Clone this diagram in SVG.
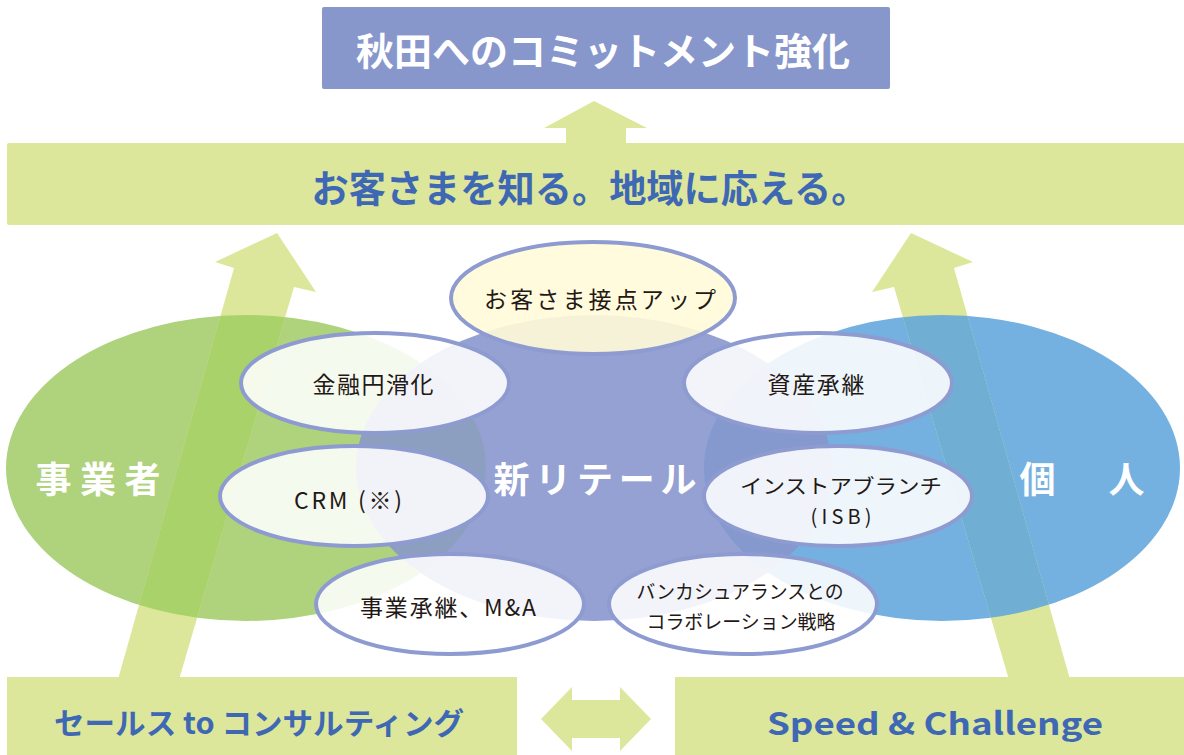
<svg xmlns="http://www.w3.org/2000/svg" width="1184" height="755" viewBox="0 0 1184 755">
<style>
.lab{font-family:"Noto Sans CJK JP","Noto Sans",sans-serif;font-size:23px;fill:#231815;text-anchor:middle;dominant-baseline:central}
.lab2{font-family:"Noto Sans CJK JP","Noto Sans",sans-serif;fill:#231815;text-anchor:middle}
.big{font-family:"Noto Sans CJK JP","Noto Sans",sans-serif;font-weight:bold;text-anchor:middle;dominant-baseline:central}
.sm{fill:#ffffff;fill-opacity:0.88;stroke:#8e9bd0;stroke-width:4}
.lime{fill:#dde79b}
</style>
<defs>
<clipPath id="cGreen"><ellipse cx="246" cy="468" rx="240" ry="153"/></clipPath>
<clipPath id="cPurple"><ellipse cx="594" cy="468" rx="238" ry="153"/></clipPath>
<clipPath id="cBlue"><ellipse cx="942" cy="468" rx="238" ry="153"/></clipPath>
<polygon id="arrL" points="115,690 234,268 215,262 277,233 316,292 294,287 176,690"/>
<polygon id="arrR" points="1073,690 954,268 973,262 911,233 872,292 894,287 1012,690"/>
</defs>
<rect width="1184" height="755" fill="#ffffff"/>

<g id="circles">
<ellipse cx="246" cy="468" rx="240" ry="153" fill="#afd27d"/>
<ellipse cx="594" cy="468" rx="238" ry="153" fill="#95a1d2"/>
<ellipse cx="942" cy="468" rx="238" ry="153" fill="#74b1e0"/>
<ellipse cx="594" cy="468" rx="238" ry="153" fill="#8c9fc1" clip-path="url(#cGreen)"/>
<ellipse cx="942" cy="468" rx="238" ry="153" fill="#8599cf" clip-path="url(#cPurple)"/>
</g>

<g id="connectors">
<use href="#arrL" class="lime"/>
<use href="#arrR" class="lime"/>
<use href="#arrL" fill="#a9d26b" clip-path="url(#cGreen)"/>
<use href="#arrR" fill="#70aed3" clip-path="url(#cBlue)"/>
<polygon class="lime" points="594,101 647,128 626,128 626,145 566,145 566,128 544,128"/>
<polygon class="lime" points="541,719 572,687 572,700 620,700 620,687 651,719 620,751 620,738 572,738 572,751"/>
</g>

<g id="n-top">
<rect x="322" y="7" width="568" height="82" rx="2" fill="#8897cb"/>
<text class="big" x="603" y="48" font-size="38" fill="#ffffff" textLength="494" lengthAdjust="spacingAndGlyphs">秋田へのコミットメント強化</text>
</g>

<g id="n-band">
<rect x="7" y="143" width="1184" height="82" rx="2" class="lime"/>
<text class="big" x="590" y="185" font-size="38" fill="#3f68b4" textLength="557" lengthAdjust="spacingAndGlyphs">お客さまを知る。地域に応える。</text>
</g>

<g id="n-jigyosha"><text class="big" x="98" y="477" font-size="36" fill="#ffffff" textLength="125" lengthAdjust="spacing">事業者</text></g>
<g id="n-retail"><text class="big" x="595" y="477" font-size="36" fill="#ffffff" textLength="203" lengthAdjust="spacing">新リテール</text></g>
<g id="n-kojin"><text class="big" x="1082" y="477" font-size="36" fill="#ffffff" textLength="125" lengthAdjust="spacing">個　人</text></g>

<g id="n-sesshoku">
<ellipse cx="593" cy="298" rx="142" ry="56" fill="#fffbd8" fill-opacity="0.9" stroke="#8e9bd0" stroke-width="4"/>
<text class="lab" x="600" y="298" font-size="24" textLength="232" lengthAdjust="spacing">お客さま接点アップ</text>
</g>
<g id="n-kinyu">
<ellipse class="sm" cx="375" cy="383" rx="134" ry="50"/>
<text class="lab" x="373" y="383" textLength="121" lengthAdjust="spacing">金融円滑化</text>
</g>
<g id="n-crm">
<ellipse class="sm" cx="354" cy="496" rx="134" ry="50"/>
<text class="lab" x="348" y="499" textLength="108" lengthAdjust="spacing">CRM (※)</text>
</g>
<g id="n-jigyo">
<ellipse class="sm" cx="450" cy="604" rx="134" ry="50"/>
<text class="lab" x="448" y="606" textLength="176" lengthAdjust="spacing">事業承継、M&amp;A</text>
</g>
<g id="n-shisan">
<ellipse class="sm" cx="818" cy="383" rx="134" ry="50"/>
<text class="lab" x="816" y="383" textLength="97" lengthAdjust="spacing">資産承継</text>
</g>
<g id="n-isb">
<ellipse class="sm" cx="838" cy="496" rx="134" ry="50"/>
<text class="lab2" x="841" y="494" font-size="20" textLength="202" lengthAdjust="spacingAndGlyphs">インストアブランチ</text>
<text class="lab2" x="841" y="524" font-size="20" textLength="61" lengthAdjust="spacing">(ISB)</text>
</g>
<g id="n-banca">
<ellipse class="sm" cx="743" cy="604" rx="134" ry="50"/>
<text class="lab2" x="740" y="599" font-size="19" textLength="207" lengthAdjust="spacingAndGlyphs">バンカシュアランスとの</text>
<text class="lab2" x="741" y="629" font-size="19" textLength="189" lengthAdjust="spacingAndGlyphs">コラボレーション戦略</text>
</g>

<g id="n-sales">
<rect x="7" y="677" width="510" height="80" class="lime"/>
<text class="big" x="259" y="721" font-size="30" fill="#3f68b4" textLength="410" lengthAdjust="spacingAndGlyphs">セールス to コンサルティング</text>
</g>
<g id="n-speed">
<rect x="675" y="677" width="512" height="80" class="lime"/>
<text class="big" x="935" y="721" font-size="31" fill="#3f68b4" font-family="Liberation Sans, Arial, sans-serif" textLength="336" lengthAdjust="spacingAndGlyphs">Speed &amp; Challenge</text>
</g>
</svg>
